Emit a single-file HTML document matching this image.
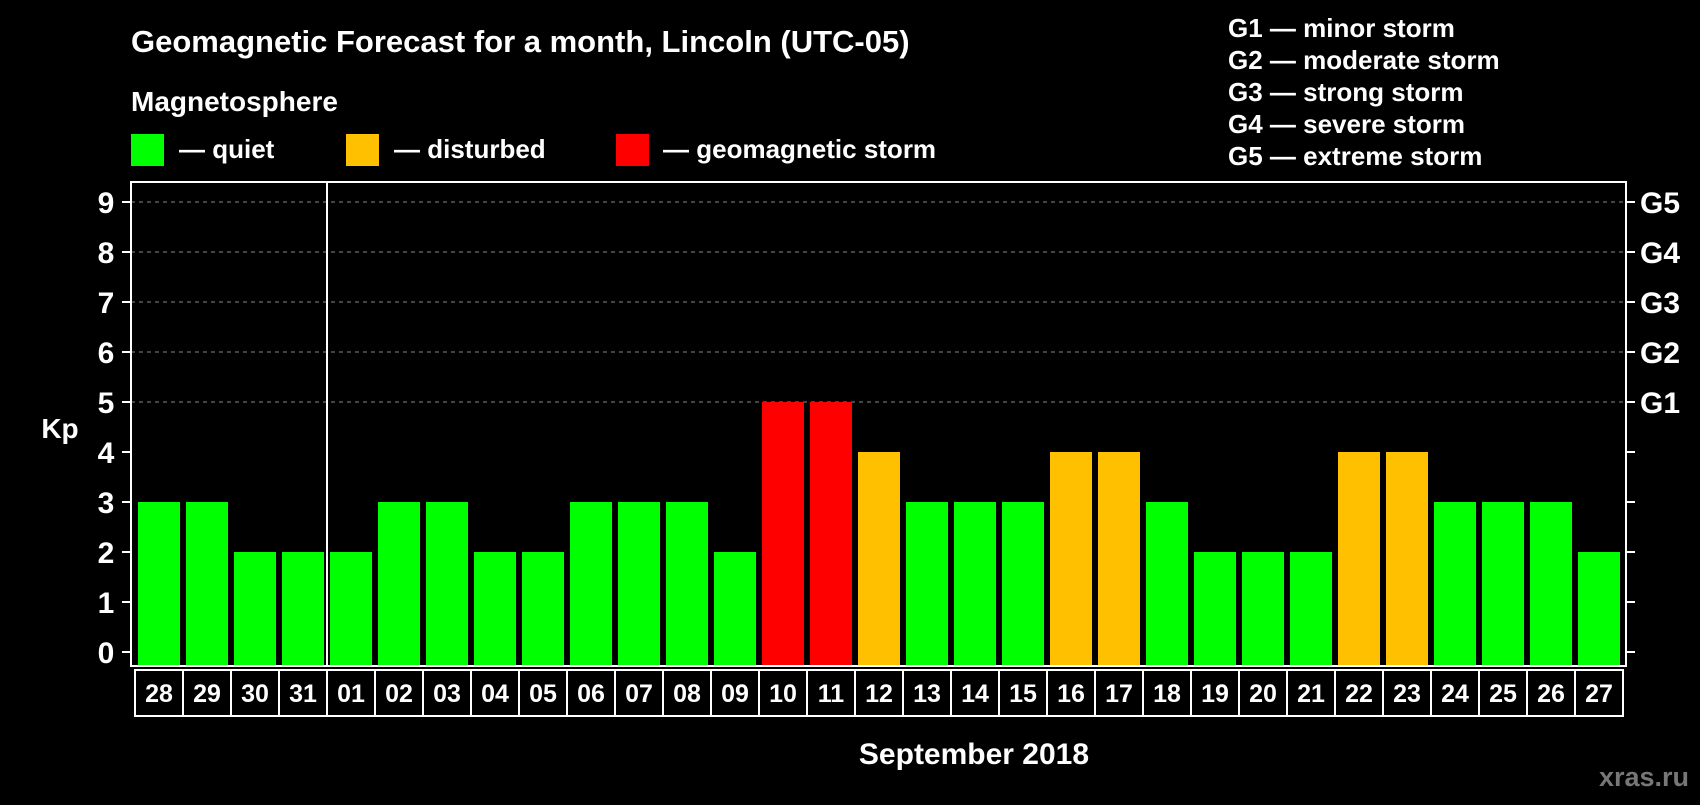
<!DOCTYPE html>
<html><head><meta charset="utf-8"><style>
body{margin:0;background:#000;width:1700px;height:800px;overflow:hidden;font-family:"Liberation Sans",sans-serif;font-weight:bold;color:#fff}
svg text{font-family:"Liberation Sans",sans-serif;font-weight:bold;fill:#fff}
</style></head><body>
<svg id="c" width="1700" height="800">
<text x="131" y="52" font-size="31">Geomagnetic Forecast for a month, Lincoln (UTC-05)</text>
<text x="131" y="111" font-size="28">Magnetosphere</text>
<g><rect x="131" y="134" width="33" height="32" fill="#00ff00"/><text x="179" y="158" font-size="26">— quiet</text></g>
<g><rect x="346" y="134" width="33" height="32" fill="#ffc000"/><text x="394" y="158" font-size="26">— disturbed</text></g>
<g><rect x="616" y="134" width="33" height="32" fill="#ff0000"/><text x="663" y="158" font-size="26">— geomagnetic storm</text></g>
<g font-size="26">
<text x="1228" y="37">G1 — minor storm</text><text x="1228" y="69">G2 — moderate storm</text><text x="1228" y="101">G3 — strong storm</text><text x="1228" y="133">G4 — severe storm</text><text x="1228" y="165">G5 — extreme storm</text></g>
<text x="60" y="438" font-size="28" text-anchor="middle">Kp</text>
<text x="974" y="764" font-size="30" text-anchor="middle">September 2018</text>
<text x="1689" y="786" font-size="27" text-anchor="end" style="fill:#777">xras.ru</text>
<g id="plot"></g>
</svg>
<script>
const days=["28","29","30","31","01","02","03","04","05","06","07","08","09","10","11","12","13","14","15","16","17","18","19","20","21","22","23","24","25","26","27"];
const kp=[3,3,2,2,2,3,3,2,2,3,3,3,2,5,5,4,3,3,3,4,4,3,2,2,2,4,4,3,3,3,2];
const yTicks=[0,1,2,3,4,5,6,7,8,9];
const gLabels=["","","","","","G1","G2","G3","G4","G5"];
const NS="http://www.w3.org/2000/svg";
const g=document.getElementById('plot');
const L=131,R=1626,T=182,B=666,y0=652,unit=50,x0=138,pitch=48,bw=42;
const y=v=>y0-v*unit, x=i=>x0+i*pitch;
function mk(t,a){const e=document.createElementNS(NS,t);for(const k in a)e.setAttribute(k,a[k]);g.appendChild(e);return e;}
yTicks.forEach(v=>{
 if(v>=5){const l=mk('line',{x1:L,x2:R,y1:y(v),y2:y(v),stroke:'#888','stroke-dasharray':'4 4'});}
 mk('line',{x1:L-9,x2:L,y1:y(v),y2:y(v),stroke:'#fff','stroke-width':2});
 mk('line',{x1:R,x2:R+9,y1:y(v),y2:y(v),stroke:'#fff','stroke-width':2});
 const t=mk('text',{x:106,y:y(v)+11,'font-size':30,'text-anchor':'middle'});t.textContent=v;
 
 
 if(gLabels[v]){const s=mk('text',{x:1640,y:y(v)+11,'font-size':30});s.textContent=gLabels[v];
 
 }
});
kp.forEach((v,i)=>{
 const c=v>=5?'#ff0000':v>=4?'#ffc000':'#00ff00';
 const r=mk('rect',{x:x(i),y:y(v),width:bw,height:B-y(v),fill:c});
 
 
 mk('rect',{x:x(i)-3,y:670,width:pitch,height:46,fill:'none',stroke:'#fff','stroke-width':2});
 const t=mk('text',{x:x(i)+bw/2,y:702,'font-size':25,'text-anchor':'middle'});t.textContent=days[i];
 
 
});
mk('rect',{x:L,y:T,width:R-L,height:B-T,fill:'none',stroke:'#fff','stroke-width':2});
const d=mk('line',{x1:x(4)-3,x2:x(4)-3,y1:T,y2:B,stroke:'#fff','stroke-width':2});


</script>
</body></html>
